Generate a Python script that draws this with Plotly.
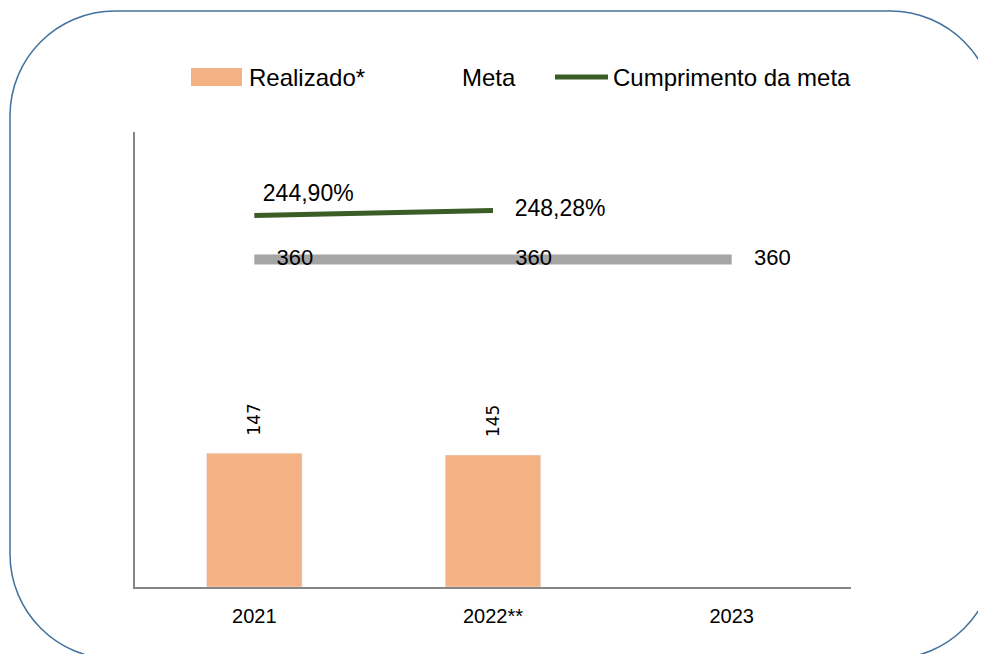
import plotly.graph_objects as go

# data
anos = ["2021", "2022**", "2023"]
realizado = [147, 145, None]
meta = [360, 360, 360]
cumprimento = [2.4490, 2.4828, None]
cumprimento_txt = ["244,90%", "248,28%", ""]

W, H = 986, 654
OFF = 8  # page body margin
L, R, T, B = 135 - OFF, 135 + OFF, 132 - OFF, 67 + OFF
PW, PH = W - L - R, H - T - B

FONT = "Liberation Sans, Arial, sans-serif"
COR_REAL = "#F4B183"
COR_META = "#A5A5A5"
COR_CUMP = "#3B5E26"
SEM_COR = "rgba(0,0,0,0)"


def px(x, y):
    # reference pixel position -> paper coords
    return (x - OFF - L) / PW, (H - B - (y - OFF)) / PH


def rounded_box(x0, y0, x1, y1, r):
    k = 0.5523 * r
    pts = [
        ("M", [(x0, y0 + r)]),
        ("C", [(x0, y0 + r - k), (x0 + r - k, y0), (x0 + r, y0)]),
        ("L", [(x1 - r, y0)]),
        ("C", [(x1 - r + k, y0), (x1, y0 + r - k), (x1, y0 + r)]),
        ("L", [(x1, y1 - r)]),
        ("C", [(x1, y1 - r + k), (x1 - r + k, y1), (x1 - r, y1)]),
        ("L", [(x0 + r, y1)]),
        ("C", [(x0 + r - k, y1), (x0, y1 - r + k), (x0, y1 - r)]),
    ]
    out = ""
    for cmd, ps in pts:
        out += cmd + " ".join("%.4f,%.4f" % px(a, b) for a, b in ps) + " "
    return out + "Z"


fig = go.Figure()

fig.add_trace(go.Bar(
    x=anos, y=realizado, name="Realizado*",
    marker=dict(color=COR_REAL), width=0.4,
))

fig.add_trace(go.Scatter(
    x=anos, y=meta, mode="lines+markers+text", name="Meta",
    line=dict(color=COR_META, width=10),
    marker=dict(size=34, color=SEM_COR, line=dict(width=0, color=SEM_COR)),
    text=[str(v) for v in meta], textposition="middle right",
    textfont=dict(family=FONT, size=22, color="#000000"),
))

fig.add_trace(go.Scatter(
    x=anos, y=cumprimento, mode="lines+markers+text", name="Cumprimento da meta",
    yaxis="y2",
    line=dict(color=COR_CUMP, width=5),
    marker=dict(size=[12, 33, 10], color=SEM_COR, line=dict(width=0, color=SEM_COR)),
    text=cumprimento_txt, textposition=["top right", "middle right", "middle right"],
    textfont=dict(family=FONT, size=23, color="#000000"),
))

# rotated value labels above the bars (category index as x)
for i, v in enumerate(realizado):
    if v is None:
        continue
    fig.add_annotation(
        x=i, y=v, text=str(v), textangle=-90, showarrow=False,
        yanchor="bottom", yshift=16,
        font=dict(family="DejaVu Sans, sans-serif", size=17, color="#000000"),
    )

# legend drawn by hand so the spacing matches the original
leg_font = dict(family=FONT, size=24, color="#000000")
x0, y0 = px(191, 68)
x1, y1 = px(242, 86)
fig.add_shape(type="rect", xref="paper", yref="paper", x0=x0, y0=y0, x1=x1, y1=y1,
              fillcolor=COR_REAL, line=dict(width=0))
x0, yl = px(555, 77)
x1, _ = px(608, 77)
fig.add_shape(type="line", xref="paper", yref="paper", x0=x0, y0=yl, x1=x1, y1=yl,
              line=dict(color=COR_CUMP, width=5))
for nome, xp in [("Realizado*", 247), ("Meta", 460), ("Cumprimento da meta", 611)]:
    xa, ya = px(xp, 77)
    fig.add_annotation(x=xa, y=ya, xref="paper", yref="paper", text=nome,
                       showarrow=False, xanchor="left", yanchor="middle",
                       font=leg_font)

fig.add_shape(
    type="path", xref="paper", yref="paper",
    path=rounded_box(10, 11, 995, 659, 105),
    line=dict(color="#41719C", width=1.5), layer="below",
)

fig.update_layout(
    width=W, height=H,
    margin=dict(l=L, r=R, t=T, b=B),
    paper_bgcolor="white", plot_bgcolor="white",
    font=dict(family=FONT, size=19, color="#000000"),
    showlegend=False,
    xaxis=dict(
        type="category", range=[-0.5, 2.5],
        showline=True, linecolor="#868686", linewidth=2,
        showgrid=False, ticks="", ticklabelstandoff=10,
        tickfont=dict(family=FONT, size=20),
    ),
    yaxis=dict(
        range=[0, 500], showline=True, linecolor="#868686", linewidth=2,
        showgrid=False, zeroline=False, showticklabels=False, ticks="",
    ),
    yaxis2=dict(
        range=[0, 3], overlaying="y", side="right", visible=False,
        showgrid=False, zeroline=False,
    ),
)

fig.write_html("out.html")
